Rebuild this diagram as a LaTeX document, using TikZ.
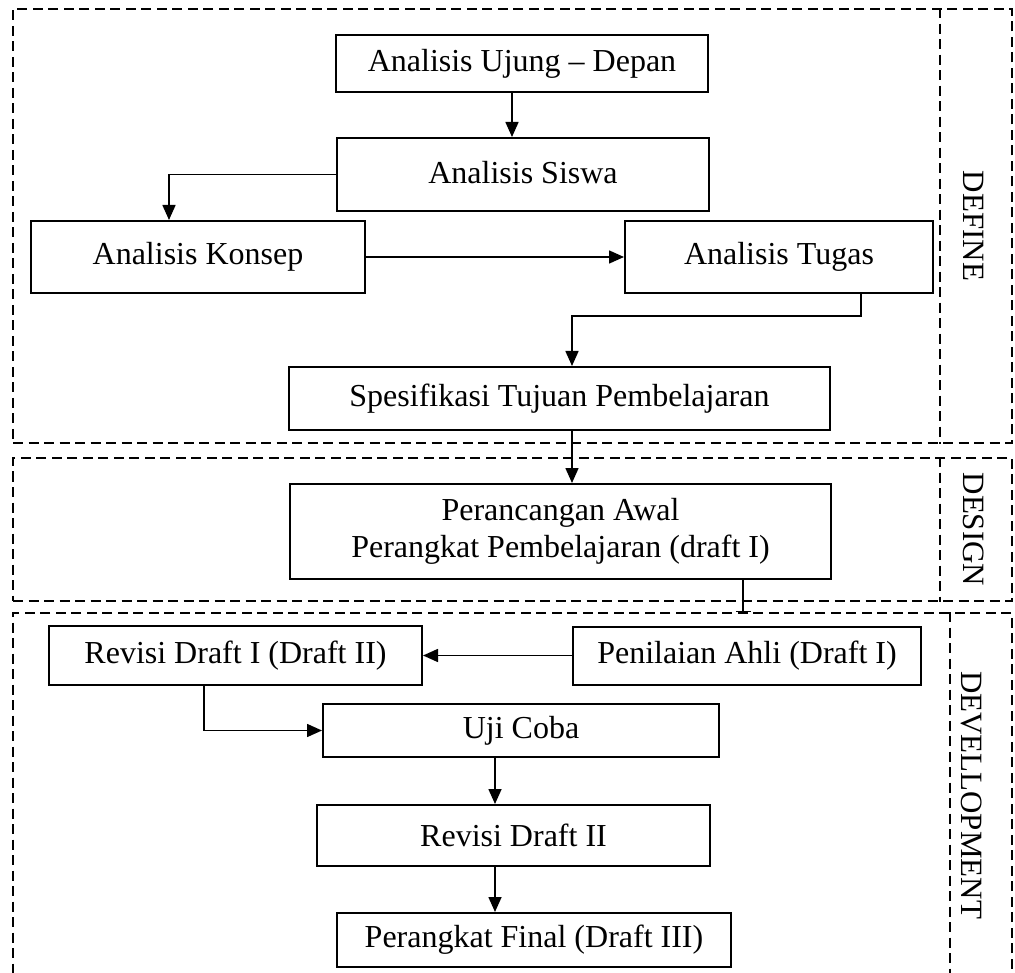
\documentclass[tikz,border=0pt]{standalone}
\usepackage{fontspec}
\setmainfont{Liberation Serif}
\usetikzlibrary{arrows.meta}
\begin{document}
\begin{tikzpicture}[x=1pt,y=-1pt,
  box/.style={draw,line width=2pt,inner sep=0pt,align=center,font=\fontsize{32}{37}\selectfont},
  arr/.style={line width=1.6pt,-{Triangle[length=15pt,width=13pt]}},
  teeline/.style={line width=1.6pt,-{Bar[width=15pt,line width=1.6pt]}},
  phase/.style={draw,line width=1.6pt,dash pattern=on 10pt off 5.5pt,inner sep=0pt},
  divider/.style={line width=1.6pt,dash pattern=on 10pt off 5.5pt},
  lbl/.style={rotate=-90,font=\fontsize{31}{36}\selectfont,inner sep=0pt}]
\useasboundingbox (0,0) rectangle (1015,973);

% phase frames
\node[phase,minimum width=999pt,minimum height=434pt] (define) at (512.5,226) {};
\node[phase,minimum width=999pt,minimum height=143pt] (design) at (512.5,529.5) {};
\node[phase,minimum width=999pt,minimum height=364pt] (develop) at (512.5,795) {};

\coordinate (dv1) at (940,0);
\coordinate (dv2) at (950,0);
\draw[divider] (define.north -| dv1) -- (define.south -| dv1);
\draw[divider] (design.north -| dv1) -- (design.south -| dv1);
\draw[divider] (develop.north -| dv2) -- (develop.south -| dv2);

\node[lbl] (ldefine) at (974,226) {DEFINE};
\node[lbl] (ldesign) at (974,529.5) {DESIGN};
\node[lbl] (ldevelop) at (972,795) {DEVELLOPMENT};

% boxes
\node[box,minimum width=372pt,minimum height=57pt] (ujung) at (522,63.5) {Analisis Ujung -- Depan};
\node[box,minimum width=372pt,minimum height=73pt] (siswa) at (523,174.5) {\raisebox{4pt}{Analisis Siswa}};
\node[box,minimum width=334pt,minimum height=72pt] (konsep) at (198,257) {Analisis Konsep};
\node[box,minimum width=308pt,minimum height=72pt] (tugas) at (779,257) {Analisis Tugas};
\node[box,minimum width=541pt,minimum height=63pt] (spes) at (559.5,398.5) {Spesifikasi Tujuan Pembelajaran};
\node[box,minimum width=541pt,minimum height=95pt] (peranc) at (560.5,531.5) {Perancangan Awal\\Perangkat Pembelajaran (draft I)};
\node[box,minimum width=373pt,minimum height=59pt] (rev1) at (235.5,655.5) {Revisi Draft I (Draft II)};
\node[box,minimum width=348pt,minimum height=58pt] (penil) at (747,655.5) {Penilaian Ahli (Draft I)};
\node[box,minimum width=396pt,minimum height=53pt] (uji) at (521,730.5) {Uji Coba};
\node[box,minimum width=393pt,minimum height=61pt] (rev2) at (513.5,835.5) {Revisi Draft II};
\node[box,minimum width=394pt,minimum height=54pt] (final) at (534,940) {Perangkat Final (Draft III)};

% helper coordinates
\coordinate (x512) at (512,0);
\coordinate (x169) at (169,0);
\coordinate (e1) at (861,316);
\coordinate (e2) at (572,316);
\coordinate (x743) at (743,0);
\coordinate (x204) at (204,0);
\coordinate (x495) at (495,0);

% connectors
\draw[arr] (ujung.south -| x512) -- (siswa.north -| x512);
\draw[arr] (siswa.west) -| (konsep.north -| x169);
\draw[arr] (konsep.east) -- (tugas.west);
\draw[arr] (tugas.south -| e1) -- (e1) -- (e2) -- (spes.north -| e2);
\draw[arr] (spes.south -| e2) -- (peranc.north -| e2);
\draw[teeline] (peranc.south -| x743) -- (develop.north -| x743);
\draw[arr] (penil.west) -- (rev1.east);
\draw[arr] (rev1.south -| x204) |- (uji.west);
\draw[arr] (uji.south -| x495) -- (rev2.north -| x495);
\draw[arr] (rev2.south -| x495) -- (final.north -| x495);
\end{tikzpicture}
\end{document}
